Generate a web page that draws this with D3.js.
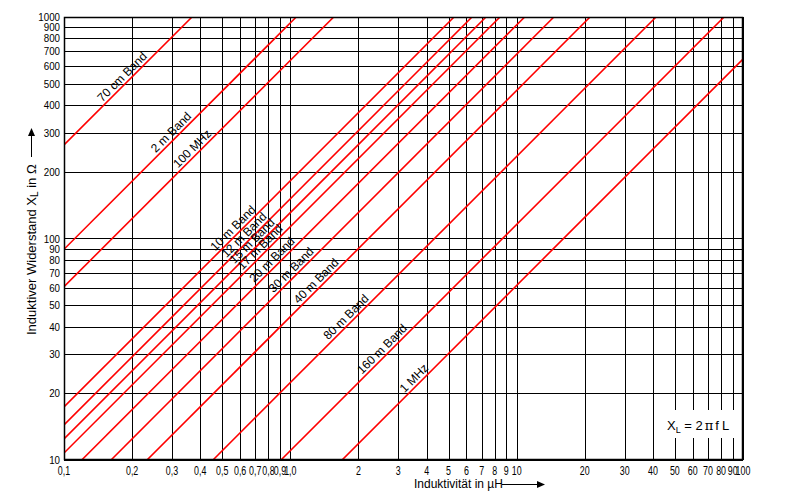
<!DOCTYPE html>
<html><head><meta charset="utf-8">
<script src="https://cdn.jsdelivr.net/npm/d3@7"></script>
<style>body{margin:0;background:#fff}svg{display:block}text{font-family:"Liberation Sans",Arial,sans-serif}</style>
</head><body>
<svg id="c" width="800" height="500"></svg>
<script>
// Data: each band line enters and leaves the plot at these (L in µH, XL in Ω) points
const bandNames  = ["70 cm Band","2 m Band","100 MHz","10 m Band","12 m Band","15 m Band","17 m Band","20 m Band","30 m Band","40 m Band","80 m Band","160 m Band","1 MHz"];
const lineStartL  = [0.1, 0.1, 0.1, 0.1, 0.1, 0.1, 0.1, 0.1197, 0.1613, 0.2326, 0.455, 0.909, 1.692];
const lineStartXL = [264.4, 89.4, 60.6, 17.35, 14.39, 12.44, 10.75, 10, 10, 10, 10, 10, 10];
const lineEndL    = [0.3678, 1.062, 1.555, 5.29, 6.35, 7.32, 8.44, 10.85, 14.6, 21.1, 41.3, 82.5, 100];
const lineEndXL   = [1000, 1000, 1000, 1000, 1000, 1000, 1000, 1000, 1000, 1000, 1000, 1000, 646];
const labelAtL    = [0.190, 0.3126, 0.387, 0.587, 0.657, 0.713, 0.773, 0.873, 1.06, 1.367, 1.854, 2.675, 3.70];
const xTicks = [0.1,0.2,0.3,0.4,0.5,0.6,0.7,0.8,0.9,1,2,3,4,5,6,7,8,9,10,20,30,40,50,60,70,80,90,100];
const xTickLabels = ["0,1","0,2","0,3","0,4","0,5","0,6","0,7","0,8","0,9","1,0","2","3","4","5","6","7","8","9","10","20","30","40","50","60","70","80","90","100"];
const yTicks = [10,20,30,40,50,60,70,80,90,100,200,300,400,500,600,700,800,900,1000];
const yTickLabels = ["10","20","30","40","50","60","70","80","90","100","200","300","400","500","600","700","800","900","1000"];

const svg = d3.select("#c");
const L = 64, R = 743, T = 17, B = 460;
const x = d3.scaleLog().domain([0.1,100]).range([L,R]);
const y = d3.scaleLog().domain([10,1000]).range([B,T]);

svg.append("defs").append("clipPath").attr("id","clip")
  .append("rect").attr("x",L).attr("y",T).attr("width",R-L).attr("height",B-T);

// grid
const g = svg.append("g");
g.selectAll(".vx").data(xTicks).join("line")
  .attr("x1",d=>Math.round(x(d))+0.5).attr("x2",d=>Math.round(x(d))+0.5)
  .attr("y1",T).attr("y2",B).attr("stroke","#000").attr("stroke-width",1);
g.selectAll(".hy").data(yTicks).join("line")
  .attr("y1",d=>Math.round(y(d))+0.5).attr("y2",d=>Math.round(y(d))+0.5)
  .attr("x1",L).attr("x2",R).attr("stroke","#000").attr("stroke-width",1);

// band lines
const lines = svg.append("g").attr("clip-path","url(#clip)");
bandNames.forEach((n,i)=>{
  lines.append("line")
    .attr("x1",x(lineStartL[i])).attr("y1",y(lineStartXL[i]))
    .attr("x2",x(lineEndL[i])).attr("y2",y(lineEndXL[i]))
    .attr("stroke","#ff0000").attr("stroke-width",1.6);
});

// formula box
svg.append("rect").attr("x",663).attr("y",410).attr("width",76).attr("height",28).attr("fill","#fff");
const ft = svg.append("text").attr("x",667).attr("y",430).attr("font-size",13).attr("fill","#000");
ft.append("tspan").text("X");
ft.append("tspan").attr("font-size",9).attr("dy",3).text("L");
ft.append("tspan").attr("dy",-3).text(" = 2");
ft.append("tspan").attr("dx",2).attr("font-family","DejaVu Serif").text("π");
ft.append("tspan").attr("dx",2).text("f");
ft.append("tspan").attr("dx",3).text("L");

// band labels
bandNames.forEach((n,i)=>{
  const x1 = x(lineStartL[i]), y1 = y(lineStartXL[i]), x2 = x(lineEndL[i]), y2 = y(lineEndXL[i]);
  const ang = Math.atan2(y2-y1, x2-x1)*180/Math.PI;
  const px = x(labelAtL[i]);
  const py = y1 + (y2-y1)*(px-x1)/(x2-x1);
  svg.append("text").attr("transform",`translate(${px},${py}) rotate(${ang})`)
    .attr("text-anchor","middle").attr("dy",-3).attr("font-size",12).attr("fill","#000").text(n);
});

// border
svg.append("rect").attr("x",L+0.5).attr("y",T+0.5).attr("width",R-L-1).attr("height",B-T-1)
  .attr("fill","none").attr("stroke","#000").attr("stroke-width",1.5);

// tick labels
svg.selectAll(".xl").data(xTicks).join("text")
  .attr("transform",d=>`translate(${x(d)},${B+15}) scale(0.74,1)`)
  .attr("text-anchor","middle").attr("font-size",12)
  .text((d,i)=>xTickLabels[i]);
svg.selectAll(".yl").data(yTicks).join("text")
  .attr("transform",d=>`translate(${L-4},${y(d)+4}) scale(0.85,1)`)
  .attr("text-anchor","end").attr("font-size",11.5)
  .text((d,i)=>yTickLabels[i]);

// axis titles
svg.append("text").attr("x",414).attr("y",488).attr("font-size",12).text("Induktivität in µH");
svg.append("line").attr("x1",502).attr("x2",540).attr("y1",484.5).attr("y2",484.5).attr("stroke","#000");
svg.append("path").attr("d","M545,484.5 L537,481 L537,488 Z").attr("fill","#000");

const yt = svg.append("text").attr("transform","translate(36,335) rotate(-90)").attr("font-size",13);
yt.append("tspan").text("Induktiver Widerstand X");
yt.append("tspan").attr("font-size",10).attr("dy",2).text("L");
yt.append("tspan").attr("dy",-2).text(" in Ω");
svg.append("line").attr("x1",31.5).attr("x2",31.5).attr("y1",157).attr("y2",133).attr("stroke","#000");
svg.append("path").attr("d","M31.5,128 L28,136 L35,136 Z").attr("fill","#000");
</script>
</body></html>
